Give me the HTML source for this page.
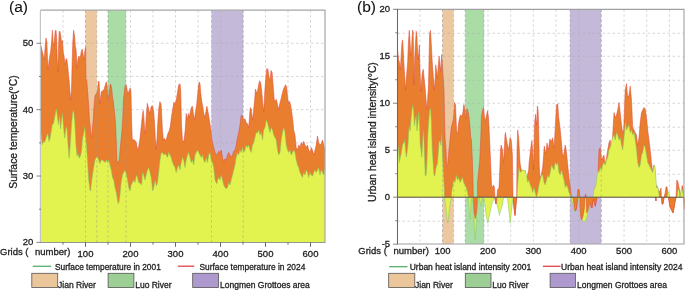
<!DOCTYPE html>
<html><head><meta charset="utf-8"><style>
html,body{margin:0;padding:0;background:#fff;overflow:hidden;}
svg{display:block;}
text{font-family:"Liberation Sans", sans-serif; stroke:#1a1a1a; stroke-width:0.3px; paint-order:stroke;}
svg{will-change:transform;}
</style></head><body>
<svg width="685" height="290" viewBox="0 0 685 290" font-family="Liberation Sans, sans-serif">
<rect x="0" y="0" width="685" height="290" fill="#fff"/>
<line x1="40.4" y1="10.2" x2="40.4" y2="242.1" stroke="#c4c4c4" stroke-width="1.2"/>
<rect x="85.5" y="10.2" width="11.30" height="231.9" fill="#ECC79F"/>
<rect x="108" y="10.2" width="18.00" height="231.9" fill="#AADDA5"/>
<rect x="211.5" y="10.2" width="31.70" height="231.9" fill="#C5B9DA"/>
<line x1="63.00" y1="10.2" x2="63.00" y2="242.1" stroke="#aaa" stroke-opacity="0.6" stroke-width="0.8" stroke-dasharray="2.5,2.5"/>
<line x1="85.50" y1="10.2" x2="85.50" y2="242.1" stroke="#aaa" stroke-opacity="0.6" stroke-width="0.8" stroke-dasharray="2.5,2.5"/>
<line x1="108.00" y1="10.2" x2="108.00" y2="242.1" stroke="#aaa" stroke-opacity="0.6" stroke-width="0.8" stroke-dasharray="2.5,2.5"/>
<line x1="130.50" y1="10.2" x2="130.50" y2="242.1" stroke="#aaa" stroke-opacity="0.6" stroke-width="0.8" stroke-dasharray="2.5,2.5"/>
<line x1="153.00" y1="10.2" x2="153.00" y2="242.1" stroke="#aaa" stroke-opacity="0.6" stroke-width="0.8" stroke-dasharray="2.5,2.5"/>
<line x1="175.50" y1="10.2" x2="175.50" y2="242.1" stroke="#aaa" stroke-opacity="0.6" stroke-width="0.8" stroke-dasharray="2.5,2.5"/>
<line x1="198.00" y1="10.2" x2="198.00" y2="242.1" stroke="#aaa" stroke-opacity="0.6" stroke-width="0.8" stroke-dasharray="2.5,2.5"/>
<line x1="220.50" y1="10.2" x2="220.50" y2="242.1" stroke="#aaa" stroke-opacity="0.6" stroke-width="0.8" stroke-dasharray="2.5,2.5"/>
<line x1="243.00" y1="10.2" x2="243.00" y2="242.1" stroke="#aaa" stroke-opacity="0.6" stroke-width="0.8" stroke-dasharray="2.5,2.5"/>
<line x1="265.50" y1="10.2" x2="265.50" y2="242.1" stroke="#aaa" stroke-opacity="0.6" stroke-width="0.8" stroke-dasharray="2.5,2.5"/>
<line x1="288.00" y1="10.2" x2="288.00" y2="242.1" stroke="#aaa" stroke-opacity="0.6" stroke-width="0.8" stroke-dasharray="2.5,2.5"/>
<line x1="310.50" y1="10.2" x2="310.50" y2="242.1" stroke="#aaa" stroke-opacity="0.6" stroke-width="0.8" stroke-dasharray="2.5,2.5"/>
<line x1="41" y1="209.22" x2="325" y2="209.22" stroke="#aaa" stroke-opacity="0.6" stroke-width="0.8" stroke-dasharray="2.5,2.5"/>
<line x1="41" y1="176.03" x2="325" y2="176.03" stroke="#aaa" stroke-opacity="0.6" stroke-width="0.8" stroke-dasharray="2.5,2.5"/>
<line x1="41" y1="142.85" x2="325" y2="142.85" stroke="#aaa" stroke-opacity="0.6" stroke-width="0.8" stroke-dasharray="2.5,2.5"/>
<line x1="41" y1="109.66" x2="325" y2="109.66" stroke="#aaa" stroke-opacity="0.6" stroke-width="0.8" stroke-dasharray="2.5,2.5"/>
<line x1="41" y1="76.48" x2="325" y2="76.48" stroke="#aaa" stroke-opacity="0.6" stroke-width="0.8" stroke-dasharray="2.5,2.5"/>
<line x1="41" y1="43.29" x2="325" y2="43.29" stroke="#aaa" stroke-opacity="0.6" stroke-width="0.8" stroke-dasharray="2.5,2.5"/>
<polygon points="41.00,242.10 41.00,45.70 41.70,49.10 42.60,52.60 43.40,56.00 44.30,59.50 45.20,45.70 46.00,37.90 46.90,42.20 47.40,56.00 48.10,69.80 49.00,61.20 49.80,56.00 50.70,50.90 51.70,40.50 52.40,30.20 53.10,42.20 53.80,45.70 54.50,38.80 55.20,31.00 56.00,30.20 56.70,38.80 57.20,59.50 57.80,71.60 58.40,50.90 59.10,31.90 59.80,31.00 60.70,35.30 61.60,42.20 62.40,40.50 63.30,52.60 64.10,56.00 65.00,64.70 65.90,59.50 66.70,58.60 67.60,64.70 68.40,73.30 69.30,82.00 70.50,100.00 71.50,90.00 72.20,60.00 72.80,42.20 73.60,30.20 74.50,35.30 75.30,45.70 76.20,50.90 77.10,68.10 77.90,59.50 78.80,56.00 79.70,57.80 80.50,56.00 81.40,50.90 82.20,49.10 83.10,54.30 84.00,59.50 84.80,50.90 85.70,47.40 86.00,79.00 86.70,80.00 87.70,92.40 88.30,100.70 88.80,108.00 89.30,118.00 89.80,124.00 90.20,125.00 90.60,133.00 91.20,137.00 91.70,136.00 92.40,128.70 93.40,118.30 93.90,108.00 94.50,100.70 95.00,95.50 96.50,93.40 97.20,92.00 97.70,88.00 98.30,82.00 99.00,81.00 99.60,92.00 100.10,103.80 100.60,98.00 101.20,92.40 101.70,91.40 102.20,92.40 102.80,90.30 103.30,89.80 103.80,90.30 104.30,89.30 104.80,86.20 105.30,85.20 105.80,83.10 106.30,82.00 106.80,83.10 107.40,88.30 108.00,97.00 108.50,99.00 109.00,95.00 109.50,90.00 110.00,86.00 110.50,84.00 111.00,85.00 111.50,88.00 112.00,91.00 112.50,98.00 113.10,100.00 114.30,110.30 115.30,120.70 115.80,130.00 116.40,145.50 116.90,160.00 118.00,163.50 119.30,160.00 120.00,150.70 121.00,140.30 122.00,130.00 122.60,120.70 123.10,110.30 123.40,100.00 124.00,95.00 125.00,86.00 126.00,84.50 126.50,86.00 127.00,89.00 127.50,92.00 128.00,94.00 128.50,92.00 129.00,91.00 129.50,90.00 130.00,88.00 130.50,89.00 131.00,93.00 131.60,120.00 132.20,138.30 133.40,140.50 134.00,139.50 135.20,140.70 136.40,143.00 137.70,150.40 138.90,145.60 140.00,138.30 141.30,126.00 142.50,114.00 143.20,110.50 144.20,121.40 144.90,133.50 145.60,128.60 146.40,114.00 147.30,103.30 148.50,108.00 149.70,114.00 151.00,107.00 152.20,105.70 152.90,107.00 153.80,113.00 154.60,123.80 155.30,138.30 156.30,149.20 157.00,138.30 157.70,123.80 158.70,109.30 159.90,101.60 161.10,104.50 161.80,116.60 162.50,131.00 163.50,140.70 164.20,138.30 165.40,140.70 166.60,138.30 167.90,133.50 169.10,131.00 170.30,126.20 171.50,116.60 172.70,109.30 173.90,102.00 175.10,104.50 176.30,99.70 177.50,92.40 178.70,85.00 180.00,83.70 180.70,90.00 181.50,125.00 182.50,141.00 184.00,141.00 185.20,130.00 186.20,113.50 187.20,119.70 188.30,113.50 189.30,117.60 190.40,111.40 191.40,107.30 192.40,106.20 193.50,114.50 194.50,119.70 195.50,111.40 196.60,105.20 197.60,94.80 198.60,84.50 199.30,82.00 200.10,84.50 200.70,92.80 201.70,101.00 202.70,106.20 203.80,113.50 204.80,117.60 205.90,111.40 206.90,106.20 207.90,111.40 209.00,117.60 210.00,123.80 211.00,130.00 212.00,140.00 212.50,142.50 213.70,147.50 215.00,152.50 216.20,155.00 217.50,153.70 218.70,151.20 220.00,152.50 221.20,150.00 222.50,157.50 223.70,162.50 225.00,158.70 226.20,160.00 227.50,155.00 228.70,152.50 230.00,155.00 231.20,157.50 232.50,155.00 233.70,151.20 235.00,150.00 236.20,145.00 237.50,137.50 238.70,132.50 240.00,125.00 241.20,115.00 242.50,116.20 243.70,120.00 245.00,118.70 246.20,122.50 247.50,123.70 248.70,127.50 250.00,110.00 250.40,107.60 251.40,109.70 252.40,120.00 253.50,111.80 254.50,101.40 255.50,89.00 256.60,93.10 257.60,91.00 258.60,84.80 259.70,80.70 260.70,82.80 261.70,91.00 262.80,103.50 263.80,111.80 264.80,91.00 265.90,76.60 266.90,68.30 267.90,69.30 269.00,76.60 270.00,80.70 271.00,70.40 272.10,72.40 273.10,84.80 274.20,99.30 275.20,101.40 276.20,99.30 277.30,103.50 278.30,109.70 279.30,105.50 280.40,101.40 281.40,97.30 282.40,93.10 283.50,89.00 284.50,86.90 285.50,84.80 286.60,86.90 287.60,97.30 288.60,103.50 289.70,101.40 290.70,105.50 291.70,111.80 292.80,120.00 293.70,130.00 295.00,135.00 296.20,147.50 297.50,150.00 298.70,145.00 300.00,147.50 301.20,142.50 302.50,145.00 303.70,141.20 305.00,145.00 306.20,147.50 307.50,145.00 308.70,150.00 310.00,152.50 311.20,147.50 312.50,150.00 313.70,155.00 315.00,150.00 316.20,145.00 317.50,136.00 318.70,142.50 320.00,145.00 321.20,143.70 322.50,140.00 323.70,145.00 325.00,150.00 325.00,242.10" fill="#E87E2E" stroke="none"/>
<polyline points="41.00,45.70 41.70,49.10 42.60,52.60 43.40,56.00 44.30,59.50 45.20,45.70 46.00,37.90 46.90,42.20 47.40,56.00 48.10,69.80 49.00,61.20 49.80,56.00 50.70,50.90 51.70,40.50 52.40,30.20 53.10,42.20 53.80,45.70 54.50,38.80 55.20,31.00 56.00,30.20 56.70,38.80 57.20,59.50 57.80,71.60 58.40,50.90 59.10,31.90 59.80,31.00 60.70,35.30 61.60,42.20 62.40,40.50 63.30,52.60 64.10,56.00 65.00,64.70 65.90,59.50 66.70,58.60 67.60,64.70 68.40,73.30 69.30,82.00 70.50,100.00 71.50,90.00 72.20,60.00 72.80,42.20 73.60,30.20 74.50,35.30 75.30,45.70 76.20,50.90 77.10,68.10 77.90,59.50 78.80,56.00 79.70,57.80 80.50,56.00 81.40,50.90 82.20,49.10 83.10,54.30 84.00,59.50 84.80,50.90 85.70,47.40 86.00,79.00 86.70,80.00 87.70,92.40 88.30,100.70 88.80,108.00 89.30,118.00 89.80,124.00 90.20,125.00 90.60,133.00 91.20,137.00 91.70,136.00 92.40,128.70 93.40,118.30 93.90,108.00 94.50,100.70 95.00,95.50 96.50,93.40 97.20,92.00 97.70,88.00 98.30,82.00 99.00,81.00 99.60,92.00 100.10,103.80 100.60,98.00 101.20,92.40 101.70,91.40 102.20,92.40 102.80,90.30 103.30,89.80 103.80,90.30 104.30,89.30 104.80,86.20 105.30,85.20 105.80,83.10 106.30,82.00 106.80,83.10 107.40,88.30 108.00,97.00 108.50,99.00 109.00,95.00 109.50,90.00 110.00,86.00 110.50,84.00 111.00,85.00 111.50,88.00 112.00,91.00 112.50,98.00 113.10,100.00 114.30,110.30 115.30,120.70 115.80,130.00 116.40,145.50 116.90,160.00 118.00,163.50 119.30,160.00 120.00,150.70 121.00,140.30 122.00,130.00 122.60,120.70 123.10,110.30 123.40,100.00 124.00,95.00 125.00,86.00 126.00,84.50 126.50,86.00 127.00,89.00 127.50,92.00 128.00,94.00 128.50,92.00 129.00,91.00 129.50,90.00 130.00,88.00 130.50,89.00 131.00,93.00 131.60,120.00 132.20,138.30 133.40,140.50 134.00,139.50 135.20,140.70 136.40,143.00 137.70,150.40 138.90,145.60 140.00,138.30 141.30,126.00 142.50,114.00 143.20,110.50 144.20,121.40 144.90,133.50 145.60,128.60 146.40,114.00 147.30,103.30 148.50,108.00 149.70,114.00 151.00,107.00 152.20,105.70 152.90,107.00 153.80,113.00 154.60,123.80 155.30,138.30 156.30,149.20 157.00,138.30 157.70,123.80 158.70,109.30 159.90,101.60 161.10,104.50 161.80,116.60 162.50,131.00 163.50,140.70 164.20,138.30 165.40,140.70 166.60,138.30 167.90,133.50 169.10,131.00 170.30,126.20 171.50,116.60 172.70,109.30 173.90,102.00 175.10,104.50 176.30,99.70 177.50,92.40 178.70,85.00 180.00,83.70 180.70,90.00 181.50,125.00 182.50,141.00 184.00,141.00 185.20,130.00 186.20,113.50 187.20,119.70 188.30,113.50 189.30,117.60 190.40,111.40 191.40,107.30 192.40,106.20 193.50,114.50 194.50,119.70 195.50,111.40 196.60,105.20 197.60,94.80 198.60,84.50 199.30,82.00 200.10,84.50 200.70,92.80 201.70,101.00 202.70,106.20 203.80,113.50 204.80,117.60 205.90,111.40 206.90,106.20 207.90,111.40 209.00,117.60 210.00,123.80 211.00,130.00 212.00,140.00 212.50,142.50 213.70,147.50 215.00,152.50 216.20,155.00 217.50,153.70 218.70,151.20 220.00,152.50 221.20,150.00 222.50,157.50 223.70,162.50 225.00,158.70 226.20,160.00 227.50,155.00 228.70,152.50 230.00,155.00 231.20,157.50 232.50,155.00 233.70,151.20 235.00,150.00 236.20,145.00 237.50,137.50 238.70,132.50 240.00,125.00 241.20,115.00 242.50,116.20 243.70,120.00 245.00,118.70 246.20,122.50 247.50,123.70 248.70,127.50 250.00,110.00 250.40,107.60 251.40,109.70 252.40,120.00 253.50,111.80 254.50,101.40 255.50,89.00 256.60,93.10 257.60,91.00 258.60,84.80 259.70,80.70 260.70,82.80 261.70,91.00 262.80,103.50 263.80,111.80 264.80,91.00 265.90,76.60 266.90,68.30 267.90,69.30 269.00,76.60 270.00,80.70 271.00,70.40 272.10,72.40 273.10,84.80 274.20,99.30 275.20,101.40 276.20,99.30 277.30,103.50 278.30,109.70 279.30,105.50 280.40,101.40 281.40,97.30 282.40,93.10 283.50,89.00 284.50,86.90 285.50,84.80 286.60,86.90 287.60,97.30 288.60,103.50 289.70,101.40 290.70,105.50 291.70,111.80 292.80,120.00 293.70,130.00 295.00,135.00 296.20,147.50 297.50,150.00 298.70,145.00 300.00,147.50 301.20,142.50 302.50,145.00 303.70,141.20 305.00,145.00 306.20,147.50 307.50,145.00 308.70,150.00 310.00,152.50 311.20,147.50 312.50,150.00 313.70,155.00 315.00,150.00 316.20,145.00 317.50,136.00 318.70,142.50 320.00,145.00 321.20,143.70 322.50,140.00 323.70,145.00 325.00,150.00" fill="none" stroke="#e0463a" stroke-width="0.5" stroke-linejoin="round"/>
<polygon points="41.00,242.10 41.00,133.60 42.20,144.80 43.40,141.50 44.50,142.60 45.60,139.20 46.70,135.90 47.80,133.60 49.00,141.50 50.10,138.00 51.20,131.40 52.30,124.70 53.50,123.50 54.60,118.00 55.70,111.20 56.40,109.00 57.30,115.70 58.40,124.70 59.50,115.70 60.60,129.10 61.70,118.00 62.40,113.50 63.50,126.90 64.70,138.00 65.80,129.10 66.90,126.90 68.00,144.80 69.10,158.30 70.30,144.80 71.40,126.90 72.50,113.50 73.60,110.10 74.80,122.40 75.90,144.80 77.00,156.00 78.10,153.80 79.20,158.30 80.40,156.00 81.50,151.60 82.60,138.00 83.70,133.60 84.80,126.90 85.50,135.00 86.40,144.80 87.50,160.50 88.70,180.00 90.00,190.00 90.70,191.00 91.20,185.00 92.50,175.00 93.70,167.50 95.00,160.00 96.20,157.50 97.50,157.00 98.70,160.00 100.00,163.70 101.20,160.00 102.50,160.00 103.70,161.20 105.00,162.50 106.20,160.00 107.50,162.50 108.50,160.00 110.00,165.00 111.20,170.00 112.50,177.50 113.70,180.00 115.00,187.50 116.20,192.50 117.50,200.00 118.00,203.70 119.00,202.00 120.00,195.00 121.20,182.50 122.50,175.00 123.70,172.50 125.00,170.00 126.20,173.70 127.50,180.00 128.70,187.50 130.00,191.00 131.20,185.00 132.50,182.50 133.70,180.00 135.00,182.50 136.20,175.00 137.50,177.50 138.70,182.50 140.00,183.00 141.70,185.00 142.50,172.50 143.70,175.00 145.00,180.00 146.20,175.00 147.50,170.00 148.70,167.50 150.00,172.50 151.20,177.50 152.70,191.00 153.70,188.00 155.00,180.00 156.50,186.00 157.50,182.50 158.70,172.50 160.00,160.00 161.20,153.00 162.50,152.50 163.70,155.00 165.00,153.70 166.20,155.00 167.50,157.50 168.70,152.50 170.00,155.00 171.20,157.50 172.50,162.50 173.70,165.00 175.00,167.50 176.20,172.50 177.50,167.50 178.70,165.00 180.00,170.00 181.20,162.50 182.50,157.50 183.70,160.00 185.00,167.50 186.20,160.00 187.50,155.00 188.70,152.50 190.00,157.50 191.20,162.50 192.50,160.00 193.70,165.00 195.00,155.00 196.20,152.50 197.50,150.00 198.70,152.50 200.00,155.00 201.20,157.50 202.50,155.00 203.70,160.00 205.00,162.50 206.20,157.50 207.50,162.50 208.70,155.00 210.00,152.50 211.20,160.00 212.50,162.50 213.70,167.50 215.00,180.00 216.20,182.50 217.00,183.70 217.50,180.00 218.70,177.50 220.00,180.00 221.20,175.00 222.50,180.00 223.70,185.00 225.00,187.50 226.20,188.70 227.50,187.50 228.70,182.50 230.00,185.00 231.20,180.00 232.50,175.00 233.70,170.00 235.00,165.00 236.20,157.50 237.50,152.50 238.70,155.00 240.00,150.00 241.20,152.50 242.50,147.50 243.70,152.50 245.00,150.00 246.20,145.00 247.50,147.50 248.70,145.00 250.00,150.00 251.20,152.50 252.50,145.00 253.70,142.50 255.00,137.50 256.20,132.50 257.50,133.00 258.70,130.00 260.00,135.00 261.20,132.50 262.50,140.00 263.70,130.00 265.00,127.50 266.20,120.00 267.50,122.50 268.70,127.50 270.00,132.50 271.20,127.50 272.50,130.00 273.70,135.00 275.00,137.50 276.20,140.00 277.50,150.00 278.70,155.00 280.00,152.50 281.20,140.00 282.50,132.50 283.70,127.50 285.00,132.50 286.20,145.00 287.50,150.00 288.70,152.50 290.00,150.00 291.20,155.00 292.50,152.50 293.70,150.00 295.00,152.50 296.20,160.00 297.50,165.00 298.70,167.50 300.00,172.50 301.20,175.00 302.50,177.50 303.70,172.50 305.00,175.00 306.20,170.00 307.50,172.50 308.70,177.50 310.00,172.50 311.20,175.00 312.50,176.20 313.70,172.50 315.00,170.00 316.20,172.50 317.50,170.00 318.70,167.50 320.00,175.00 321.20,170.00 322.50,172.50 323.70,175.00 325.00,167.50 325.00,242.10" fill="#E2F24E" stroke="none"/>
<polyline points="41.00,133.60 42.20,144.80 43.40,141.50 44.50,142.60 45.60,139.20 46.70,135.90 47.80,133.60 49.00,141.50 50.10,138.00 51.20,131.40 52.30,124.70 53.50,123.50 54.60,118.00 55.70,111.20 56.40,109.00 57.30,115.70 58.40,124.70 59.50,115.70 60.60,129.10 61.70,118.00 62.40,113.50 63.50,126.90 64.70,138.00 65.80,129.10 66.90,126.90 68.00,144.80 69.10,158.30 70.30,144.80 71.40,126.90 72.50,113.50 73.60,110.10 74.80,122.40 75.90,144.80 77.00,156.00 78.10,153.80 79.20,158.30 80.40,156.00 81.50,151.60 82.60,138.00 83.70,133.60 84.80,126.90 85.50,135.00 86.40,144.80 87.50,160.50 88.70,180.00 90.00,190.00 90.70,191.00 91.20,185.00 92.50,175.00 93.70,167.50 95.00,160.00 96.20,157.50 97.50,157.00 98.70,160.00 100.00,163.70 101.20,160.00 102.50,160.00 103.70,161.20 105.00,162.50 106.20,160.00 107.50,162.50 108.50,160.00 110.00,165.00 111.20,170.00 112.50,177.50 113.70,180.00 115.00,187.50 116.20,192.50 117.50,200.00 118.00,203.70 119.00,202.00 120.00,195.00 121.20,182.50 122.50,175.00 123.70,172.50 125.00,170.00 126.20,173.70 127.50,180.00 128.70,187.50 130.00,191.00 131.20,185.00 132.50,182.50 133.70,180.00 135.00,182.50 136.20,175.00 137.50,177.50 138.70,182.50 140.00,183.00 141.70,185.00 142.50,172.50 143.70,175.00 145.00,180.00 146.20,175.00 147.50,170.00 148.70,167.50 150.00,172.50 151.20,177.50 152.70,191.00 153.70,188.00 155.00,180.00 156.50,186.00 157.50,182.50 158.70,172.50 160.00,160.00 161.20,153.00 162.50,152.50 163.70,155.00 165.00,153.70 166.20,155.00 167.50,157.50 168.70,152.50 170.00,155.00 171.20,157.50 172.50,162.50 173.70,165.00 175.00,167.50 176.20,172.50 177.50,167.50 178.70,165.00 180.00,170.00 181.20,162.50 182.50,157.50 183.70,160.00 185.00,167.50 186.20,160.00 187.50,155.00 188.70,152.50 190.00,157.50 191.20,162.50 192.50,160.00 193.70,165.00 195.00,155.00 196.20,152.50 197.50,150.00 198.70,152.50 200.00,155.00 201.20,157.50 202.50,155.00 203.70,160.00 205.00,162.50 206.20,157.50 207.50,162.50 208.70,155.00 210.00,152.50 211.20,160.00 212.50,162.50 213.70,167.50 215.00,180.00 216.20,182.50 217.00,183.70 217.50,180.00 218.70,177.50 220.00,180.00 221.20,175.00 222.50,180.00 223.70,185.00 225.00,187.50 226.20,188.70 227.50,187.50 228.70,182.50 230.00,185.00 231.20,180.00 232.50,175.00 233.70,170.00 235.00,165.00 236.20,157.50 237.50,152.50 238.70,155.00 240.00,150.00 241.20,152.50 242.50,147.50 243.70,152.50 245.00,150.00 246.20,145.00 247.50,147.50 248.70,145.00 250.00,150.00 251.20,152.50 252.50,145.00 253.70,142.50 255.00,137.50 256.20,132.50 257.50,133.00 258.70,130.00 260.00,135.00 261.20,132.50 262.50,140.00 263.70,130.00 265.00,127.50 266.20,120.00 267.50,122.50 268.70,127.50 270.00,132.50 271.20,127.50 272.50,130.00 273.70,135.00 275.00,137.50 276.20,140.00 277.50,150.00 278.70,155.00 280.00,152.50 281.20,140.00 282.50,132.50 283.70,127.50 285.00,132.50 286.20,145.00 287.50,150.00 288.70,152.50 290.00,150.00 291.20,155.00 292.50,152.50 293.70,150.00 295.00,152.50 296.20,160.00 297.50,165.00 298.70,167.50 300.00,172.50 301.20,175.00 302.50,177.50 303.70,172.50 305.00,175.00 306.20,170.00 307.50,172.50 308.70,177.50 310.00,172.50 311.20,175.00 312.50,176.20 313.70,172.50 315.00,170.00 316.20,172.50 317.50,170.00 318.70,167.50 320.00,175.00 321.20,170.00 322.50,172.50 323.70,175.00 325.00,167.50" fill="none" stroke="#7cc96a" stroke-width="0.5" stroke-linejoin="round"/>
<line x1="85.5" y1="10.2" x2="85.5" y2="242.1" stroke="#999" stroke-opacity="0.6" stroke-width="0.8" stroke-dasharray="2.5,2.5"/>
<line x1="96.8" y1="10.2" x2="96.8" y2="242.1" stroke="#999" stroke-opacity="0.6" stroke-width="0.8" stroke-dasharray="2.5,2.5"/>
<line x1="108" y1="10.2" x2="108" y2="242.1" stroke="#999" stroke-opacity="0.6" stroke-width="0.8" stroke-dasharray="2.5,2.5"/>
<line x1="126" y1="10.2" x2="126" y2="242.1" stroke="#999" stroke-opacity="0.6" stroke-width="0.8" stroke-dasharray="2.5,2.5"/>
<line x1="211.5" y1="10.2" x2="211.5" y2="242.1" stroke="#999" stroke-opacity="0.6" stroke-width="0.8" stroke-dasharray="2.5,2.5"/>
<line x1="243.2" y1="10.2" x2="243.2" y2="242.1" stroke="#999" stroke-opacity="0.6" stroke-width="0.8" stroke-dasharray="2.5,2.5"/>

<path d="M40.5,10.2 H325 V242.1" fill="none" stroke="#a6a6a6" stroke-width="1.2"/>
<line x1="40.5" y1="242.5" x2="325.5" y2="242.5" stroke="#8a8a8a" stroke-width="0.9"/>
<line x1="36.5" y1="242.40" x2="41" y2="242.40" stroke="#666" stroke-width="0.8"/>
<text x="33.4" y="245.30" font-size="9.5" text-anchor="end" fill="#222">20</text>
<line x1="36.5" y1="176.03" x2="41" y2="176.03" stroke="#666" stroke-width="0.8"/>
<text x="33.4" y="178.93" font-size="9.5" text-anchor="end" fill="#222">30</text>
<line x1="36.5" y1="109.66" x2="41" y2="109.66" stroke="#666" stroke-width="0.8"/>
<text x="33.4" y="112.56" font-size="9.5" text-anchor="end" fill="#222">40</text>
<line x1="36.5" y1="43.29" x2="41" y2="43.29" stroke="#666" stroke-width="0.8"/>
<text x="33.4" y="46.19" font-size="9.5" text-anchor="end" fill="#222">50</text>
<line x1="39" y1="209.22" x2="41" y2="209.22" stroke="#666" stroke-width="0.8"/>
<line x1="39" y1="142.85" x2="41" y2="142.85" stroke="#666" stroke-width="0.8"/>
<line x1="39" y1="76.48" x2="41" y2="76.48" stroke="#666" stroke-width="0.8"/>
<line x1="85.50" y1="242.5" x2="85.50" y2="246.8" stroke="#555" stroke-width="0.9"/>
<text x="85.50" y="256.5" font-size="9.5" text-anchor="middle" fill="#222">100</text>
<line x1="130.50" y1="242.5" x2="130.50" y2="246.8" stroke="#555" stroke-width="0.9"/>
<text x="130.50" y="256.5" font-size="9.5" text-anchor="middle" fill="#222">200</text>
<line x1="175.50" y1="242.5" x2="175.50" y2="246.8" stroke="#555" stroke-width="0.9"/>
<text x="175.50" y="256.5" font-size="9.5" text-anchor="middle" fill="#222">300</text>
<line x1="220.50" y1="242.5" x2="220.50" y2="246.8" stroke="#555" stroke-width="0.9"/>
<text x="220.50" y="256.5" font-size="9.5" text-anchor="middle" fill="#222">400</text>
<line x1="265.50" y1="242.5" x2="265.50" y2="246.8" stroke="#555" stroke-width="0.9"/>
<text x="265.50" y="256.5" font-size="9.5" text-anchor="middle" fill="#222">500</text>
<line x1="310.50" y1="242.5" x2="310.50" y2="246.8" stroke="#555" stroke-width="0.9"/>
<text x="310.50" y="256.5" font-size="9.5" text-anchor="middle" fill="#222">600</text>
<line x1="63.00" y1="242.5" x2="63.00" y2="244.6" stroke="#555" stroke-width="0.9"/>
<line x1="108.00" y1="242.5" x2="108.00" y2="244.6" stroke="#555" stroke-width="0.9"/>
<line x1="153.00" y1="242.5" x2="153.00" y2="244.6" stroke="#555" stroke-width="0.9"/>
<line x1="198.00" y1="242.5" x2="198.00" y2="244.6" stroke="#555" stroke-width="0.9"/>
<line x1="243.00" y1="242.5" x2="243.00" y2="244.6" stroke="#555" stroke-width="0.9"/>
<line x1="288.00" y1="242.5" x2="288.00" y2="244.6" stroke="#555" stroke-width="0.9"/>
<text x="0" y="255.3" font-size="9.5" fill="#222">Grids (</text>
<text x="35" y="255.3" font-size="9.5" fill="#222">number)</text>
<text transform="translate(17,188.7) rotate(-90)" font-size="10.4" fill="#222">Surface temperature(°C)</text>
<text x="9" y="11.6" font-size="15.5" fill="#111" style="stroke-width:0.1px">(a)</text>
<rect x="442.5" y="9.4" width="11.10" height="234.6" fill="#ECC79F"/>
<rect x="465.3" y="9.4" width="18.70" height="234.6" fill="#AADDA5"/>
<rect x="570" y="9.4" width="31.20" height="234.6" fill="#C5B9DA"/>
<line x1="419.98" y1="9.4" x2="419.98" y2="244" stroke="#aaa" stroke-opacity="0.6" stroke-width="0.8" stroke-dasharray="2.5,2.5"/>
<line x1="442.65" y1="9.4" x2="442.65" y2="244" stroke="#aaa" stroke-opacity="0.6" stroke-width="0.8" stroke-dasharray="2.5,2.5"/>
<line x1="465.33" y1="9.4" x2="465.33" y2="244" stroke="#aaa" stroke-opacity="0.6" stroke-width="0.8" stroke-dasharray="2.5,2.5"/>
<line x1="488.00" y1="9.4" x2="488.00" y2="244" stroke="#aaa" stroke-opacity="0.6" stroke-width="0.8" stroke-dasharray="2.5,2.5"/>
<line x1="510.68" y1="9.4" x2="510.68" y2="244" stroke="#aaa" stroke-opacity="0.6" stroke-width="0.8" stroke-dasharray="2.5,2.5"/>
<line x1="533.35" y1="9.4" x2="533.35" y2="244" stroke="#aaa" stroke-opacity="0.6" stroke-width="0.8" stroke-dasharray="2.5,2.5"/>
<line x1="556.02" y1="9.4" x2="556.02" y2="244" stroke="#aaa" stroke-opacity="0.6" stroke-width="0.8" stroke-dasharray="2.5,2.5"/>
<line x1="578.70" y1="9.4" x2="578.70" y2="244" stroke="#aaa" stroke-opacity="0.6" stroke-width="0.8" stroke-dasharray="2.5,2.5"/>
<line x1="601.38" y1="9.4" x2="601.38" y2="244" stroke="#aaa" stroke-opacity="0.6" stroke-width="0.8" stroke-dasharray="2.5,2.5"/>
<line x1="624.05" y1="9.4" x2="624.05" y2="244" stroke="#aaa" stroke-opacity="0.6" stroke-width="0.8" stroke-dasharray="2.5,2.5"/>
<line x1="646.73" y1="9.4" x2="646.73" y2="244" stroke="#aaa" stroke-opacity="0.6" stroke-width="0.8" stroke-dasharray="2.5,2.5"/>
<line x1="669.40" y1="9.4" x2="669.40" y2="244" stroke="#aaa" stroke-opacity="0.6" stroke-width="0.8" stroke-dasharray="2.5,2.5"/>
<line x1="397.5" y1="221.19" x2="684" y2="221.19" stroke="#aaa" stroke-opacity="0.6" stroke-width="0.8" stroke-dasharray="2.5,2.5"/>
<line x1="397.5" y1="174.21" x2="684" y2="174.21" stroke="#aaa" stroke-opacity="0.6" stroke-width="0.8" stroke-dasharray="2.5,2.5"/>
<line x1="397.5" y1="150.22" x2="684" y2="150.22" stroke="#aaa" stroke-opacity="0.6" stroke-width="0.8" stroke-dasharray="2.5,2.5"/>
<line x1="397.5" y1="127.24" x2="684" y2="127.24" stroke="#aaa" stroke-opacity="0.6" stroke-width="0.8" stroke-dasharray="2.5,2.5"/>
<line x1="397.5" y1="103.25" x2="684" y2="103.25" stroke="#aaa" stroke-opacity="0.6" stroke-width="0.8" stroke-dasharray="2.5,2.5"/>
<line x1="397.5" y1="80.26" x2="684" y2="80.26" stroke="#aaa" stroke-opacity="0.6" stroke-width="0.8" stroke-dasharray="2.5,2.5"/>
<line x1="397.5" y1="56.28" x2="684" y2="56.28" stroke="#aaa" stroke-opacity="0.6" stroke-width="0.8" stroke-dasharray="2.5,2.5"/>
<line x1="397.5" y1="33.29" x2="684" y2="33.29" stroke="#aaa" stroke-opacity="0.6" stroke-width="0.8" stroke-dasharray="2.5,2.5"/>
<polygon points="397.50,197.20 397.50,50.00 398.60,59.70 399.40,62.20 400.30,70.00 401.20,54.50 402.00,42.40 402.60,39.80 403.20,49.30 403.90,63.10 404.60,75.00 405.50,90.40 406.30,78.00 406.90,72.00 407.70,61.40 408.40,42.40 409.30,30.30 409.80,37.20 410.50,49.30 411.20,56.20 411.90,40.70 412.60,30.00 413.20,32.00 413.70,60.00 414.10,85.00 414.60,61.40 415.30,45.90 416.20,31.20 416.90,35.50 417.60,51.00 418.40,59.70 419.30,45.00 420.00,70.00 420.80,92.00 421.60,80.00 422.40,72.00 423.30,69.30 424.30,80.00 425.30,90.00 426.10,100.00 426.80,109.70 427.60,100.00 428.50,85.00 429.60,33.80 430.50,30.30 431.30,44.10 432.20,61.40 433.20,75.00 434.30,90.40 435.20,78.00 435.70,64.80 436.50,70.00 437.40,78.30 438.20,66.00 439.10,56.20 440.00,64.00 440.80,71.40 441.70,54.50 442.30,62.00 443.00,75.00 444.00,90.00 444.50,115.00 445.00,137.00 446.00,150.00 446.70,167.00 447.50,166.00 448.50,155.00 449.50,145.00 450.00,140.00 451.00,130.00 451.40,127.00 452.40,123.00 453.40,119.00 454.00,110.70 454.50,102.40 455.50,104.50 456.60,131.40 457.60,133.50 458.60,123.10 459.70,116.90 460.70,114.80 461.70,116.90 462.80,112.80 463.80,104.50 464.80,108.60 465.90,119.00 466.90,108.60 467.90,110.70 469.00,116.90 470.00,127.30 470.70,137.00 471.40,140.00 472.40,160.70 473.00,181.00 473.30,197.50 474.20,212.00 475.20,218.50 476.30,213.00 477.10,203.00 477.50,197.50 477.60,181.40 479.70,160.70 480.70,140.00 481.40,116.90 482.40,110.70 483.50,107.60 484.50,116.90 485.50,121.00 486.60,114.80 487.60,110.70 488.60,119.00 489.50,137.00 490.50,160.00 491.50,185.00 492.50,187.50 493.70,185.00 494.50,188.00 494.90,197.50 495.50,202.00 496.00,204.00 496.50,201.00 496.90,197.50 497.50,190.00 498.00,189.00 499.00,188.00 499.80,170.00 500.50,150.00 501.20,145.00 502.50,150.00 503.70,162.50 505.00,135.00 505.50,132.50 506.20,137.50 507.50,145.00 508.70,150.00 510.00,137.50 511.20,140.00 512.40,155.00 513.00,197.50 514.00,208.00 515.00,215.50 516.00,205.00 516.70,197.50 517.00,150.00 517.70,130.00 518.70,137.50 520.00,162.50 521.20,170.00 522.50,170.00 523.70,172.50 525.00,170.00 526.20,180.00 527.50,175.00 528.70,170.00 529.10,162.60 530.00,155.00 530.50,150.00 531.20,145.00 531.90,140.50 532.70,150.00 533.50,170.00 534.20,140.00 534.70,122.60 535.50,114.30 536.60,125.00 537.40,106.00 538.20,111.00 538.80,135.00 539.30,166.70 540.00,178.00 541.20,175.00 542.20,170.00 542.90,165.00 544.30,146.00 545.70,154.00 547.00,143.00 548.40,150.00 549.80,139.10 551.20,142.00 552.60,137.80 554.00,148.00 555.00,132.50 556.50,105.00 557.70,103.70 558.70,117.50 560.00,127.50 561.20,140.00 562.50,155.00 563.70,155.00 565.20,145.00 566.20,150.00 567.50,162.50 568.70,175.00 570.00,185.00 571.50,197.50 573.00,197.50 574.00,205.00 574.70,209.70 575.50,211.00 576.50,208.00 577.20,201.00 577.70,190.00 578.50,189.00 579.30,190.00 580.00,204.00 580.70,214.80 581.50,220.00 582.50,218.00 583.30,214.80 584.20,209.70 585.00,196.00 585.70,194.00 586.20,198.00 586.70,213.00 587.50,211.00 588.50,208.00 589.30,204.50 590.20,202.80 591.00,206.20 592.00,208.00 592.80,201.00 593.60,199.30 594.50,202.80 595.30,206.20 596.20,201.00 597.00,197.50 598.00,172.50 599.00,150.00 600.20,147.50 601.50,160.00 602.70,157.50 604.00,155.00 605.20,165.00 606.50,157.50 607.70,150.00 609.00,142.50 610.20,140.00 611.50,150.00 612.70,135.00 614.00,112.50 615.20,117.50 616.50,115.00 617.70,110.00 619.00,102.50 620.20,112.50 621.50,125.00 622.70,132.50 623.70,130.00 625.20,90.00 626.50,83.70 627.70,97.50 629.00,95.00 630.20,86.20 631.50,100.00 632.70,127.50 634.00,130.00 635.20,132.50 636.50,135.00 637.70,145.00 639.00,137.50 640.20,122.50 641.50,112.50 642.70,110.00 644.00,107.50 645.20,108.70 646.50,117.50 647.70,130.00 649.00,140.00 650.20,150.00 651.50,162.50 652.70,172.50 654.00,165.00 655.20,175.00 655.50,197.50 656.00,201.00 656.50,185.00 657.70,187.50 659.00,192.50 660.20,190.00 661.00,188.00 661.50,197.50 662.00,204.00 663.00,204.00 664.00,197.50 665.20,192.50 666.00,187.00 667.00,186.80 667.70,192.50 668.50,197.50 670.00,207.00 671.50,210.00 673.00,213.00 674.00,208.00 675.00,202.00 676.00,197.50 676.80,180.00 678.00,182.00 679.00,187.50 680.20,192.50 681.50,195.00 682.00,185.40 683.00,187.00 683.70,197.50 684.50,209.60 684.50,197.20" fill="#E87E2E" stroke="none"/>
<polyline points="397.50,50.00 398.60,59.70 399.40,62.20 400.30,70.00 401.20,54.50 402.00,42.40 402.60,39.80 403.20,49.30 403.90,63.10 404.60,75.00 405.50,90.40 406.30,78.00 406.90,72.00 407.70,61.40 408.40,42.40 409.30,30.30 409.80,37.20 410.50,49.30 411.20,56.20 411.90,40.70 412.60,30.00 413.20,32.00 413.70,60.00 414.10,85.00 414.60,61.40 415.30,45.90 416.20,31.20 416.90,35.50 417.60,51.00 418.40,59.70 419.30,45.00 420.00,70.00 420.80,92.00 421.60,80.00 422.40,72.00 423.30,69.30 424.30,80.00 425.30,90.00 426.10,100.00 426.80,109.70 427.60,100.00 428.50,85.00 429.60,33.80 430.50,30.30 431.30,44.10 432.20,61.40 433.20,75.00 434.30,90.40 435.20,78.00 435.70,64.80 436.50,70.00 437.40,78.30 438.20,66.00 439.10,56.20 440.00,64.00 440.80,71.40 441.70,54.50 442.30,62.00 443.00,75.00 444.00,90.00 444.50,115.00 445.00,137.00 446.00,150.00 446.70,167.00 447.50,166.00 448.50,155.00 449.50,145.00 450.00,140.00 451.00,130.00 451.40,127.00 452.40,123.00 453.40,119.00 454.00,110.70 454.50,102.40 455.50,104.50 456.60,131.40 457.60,133.50 458.60,123.10 459.70,116.90 460.70,114.80 461.70,116.90 462.80,112.80 463.80,104.50 464.80,108.60 465.90,119.00 466.90,108.60 467.90,110.70 469.00,116.90 470.00,127.30 470.70,137.00 471.40,140.00 472.40,160.70 473.00,181.00 473.30,197.50 474.20,212.00 475.20,218.50 476.30,213.00 477.10,203.00 477.50,197.50 477.60,181.40 479.70,160.70 480.70,140.00 481.40,116.90 482.40,110.70 483.50,107.60 484.50,116.90 485.50,121.00 486.60,114.80 487.60,110.70 488.60,119.00 489.50,137.00 490.50,160.00 491.50,185.00 492.50,187.50 493.70,185.00 494.50,188.00 494.90,197.50 495.50,202.00 496.00,204.00 496.50,201.00 496.90,197.50 497.50,190.00 498.00,189.00 499.00,188.00 499.80,170.00 500.50,150.00 501.20,145.00 502.50,150.00 503.70,162.50 505.00,135.00 505.50,132.50 506.20,137.50 507.50,145.00 508.70,150.00 510.00,137.50 511.20,140.00 512.40,155.00 513.00,197.50 514.00,208.00 515.00,215.50 516.00,205.00 516.70,197.50 517.00,150.00 517.70,130.00 518.70,137.50 520.00,162.50 521.20,170.00 522.50,170.00 523.70,172.50 525.00,170.00 526.20,180.00 527.50,175.00 528.70,170.00 529.10,162.60 530.00,155.00 530.50,150.00 531.20,145.00 531.90,140.50 532.70,150.00 533.50,170.00 534.20,140.00 534.70,122.60 535.50,114.30 536.60,125.00 537.40,106.00 538.20,111.00 538.80,135.00 539.30,166.70 540.00,178.00 541.20,175.00 542.20,170.00 542.90,165.00 544.30,146.00 545.70,154.00 547.00,143.00 548.40,150.00 549.80,139.10 551.20,142.00 552.60,137.80 554.00,148.00 555.00,132.50 556.50,105.00 557.70,103.70 558.70,117.50 560.00,127.50 561.20,140.00 562.50,155.00 563.70,155.00 565.20,145.00 566.20,150.00 567.50,162.50 568.70,175.00 570.00,185.00 571.50,197.50 573.00,197.50 574.00,205.00 574.70,209.70 575.50,211.00 576.50,208.00 577.20,201.00 577.70,190.00 578.50,189.00 579.30,190.00 580.00,204.00 580.70,214.80 581.50,220.00 582.50,218.00 583.30,214.80 584.20,209.70 585.00,196.00 585.70,194.00 586.20,198.00 586.70,213.00 587.50,211.00 588.50,208.00 589.30,204.50 590.20,202.80 591.00,206.20 592.00,208.00 592.80,201.00 593.60,199.30 594.50,202.80 595.30,206.20 596.20,201.00 597.00,197.50 598.00,172.50 599.00,150.00 600.20,147.50 601.50,160.00 602.70,157.50 604.00,155.00 605.20,165.00 606.50,157.50 607.70,150.00 609.00,142.50 610.20,140.00 611.50,150.00 612.70,135.00 614.00,112.50 615.20,117.50 616.50,115.00 617.70,110.00 619.00,102.50 620.20,112.50 621.50,125.00 622.70,132.50 623.70,130.00 625.20,90.00 626.50,83.70 627.70,97.50 629.00,95.00 630.20,86.20 631.50,100.00 632.70,127.50 634.00,130.00 635.20,132.50 636.50,135.00 637.70,145.00 639.00,137.50 640.20,122.50 641.50,112.50 642.70,110.00 644.00,107.50 645.20,108.70 646.50,117.50 647.70,130.00 649.00,140.00 650.20,150.00 651.50,162.50 652.70,172.50 654.00,165.00 655.20,175.00 655.50,197.50 656.00,201.00 656.50,185.00 657.70,187.50 659.00,192.50 660.20,190.00 661.00,188.00 661.50,197.50 662.00,204.00 663.00,204.00 664.00,197.50 665.20,192.50 666.00,187.00 667.00,186.80 667.70,192.50 668.50,197.50 670.00,207.00 671.50,210.00 673.00,213.00 674.00,208.00 675.00,202.00 676.00,197.50 676.80,180.00 678.00,182.00 679.00,187.50 680.20,192.50 681.50,195.00 682.00,185.40 683.00,187.00 683.70,197.50 684.50,209.60" fill="none" stroke="#e0463a" stroke-width="0.5" stroke-linejoin="round"/>
<polygon points="397.50,197.20 397.50,143.00 398.60,150.30 399.40,162.40 400.30,157.20 401.20,153.80 402.00,148.60 402.90,143.40 403.80,143.00 404.60,139.70 405.50,150.30 406.30,157.20 407.20,152.00 408.10,143.40 408.90,129.30 409.40,125.90 410.10,131.00 411.20,117.20 411.90,110.30 412.70,105.20 413.60,110.30 414.40,125.90 415.30,119.00 416.20,115.50 417.00,131.00 418.10,120.70 418.90,112.00 419.60,127.60 420.10,143.10 421.00,150.30 421.90,157.20 422.70,139.70 423.60,130.20 424.40,153.80 425.30,176.20 426.20,174.50 427.00,160.70 427.90,134.50 428.80,120.70 429.60,110.30 430.50,108.60 431.30,120.70 432.20,148.60 433.10,162.40 433.90,174.50 434.80,176.20 435.70,169.30 436.50,165.90 437.40,164.10 438.20,153.80 439.10,141.70 440.00,141.00 440.80,145.20 441.70,134.50 442.60,157.20 443.40,174.50 444.30,190.00 444.30,197.50 445.30,203.00 446.20,211.00 447.00,219.00 447.60,223.00 448.40,219.00 449.20,211.00 450.20,203.00 451.40,197.50 451.60,192.00 452.50,187.50 453.70,180.00 455.00,182.50 456.20,175.00 457.50,180.00 458.70,177.50 460.00,182.50 461.20,180.00 462.50,177.50 463.70,182.50 465.00,185.00 466.20,187.50 467.50,192.50 468.40,197.50 469.30,212.00 470.20,219.40 470.70,210.00 471.10,199.00 472.00,197.50 473.00,203.00 473.90,214.00 474.40,228.50 475.20,239.50 475.90,228.50 476.60,214.00 477.50,203.00 478.50,199.50 479.40,197.50 480.30,203.00 481.20,206.00 482.10,197.50 483.00,197.50 484.00,200.00 484.80,205.10 485.50,210.00 486.00,214.80 487.00,220.00 487.90,223.20 488.80,218.00 489.70,214.80 490.60,210.00 491.50,205.10 492.50,202.00 493.90,199.00 494.80,197.50 495.70,197.50 497.00,205.00 498.00,209.00 498.60,211.00 499.30,215.40 500.40,211.00 501.50,208.00 502.40,205.00 503.60,197.50 507.20,197.50 508.20,204.00 509.20,213.00 510.20,223.20 511.20,213.00 512.00,206.00 512.60,201.00 513.50,199.00 515.00,198.00 516.00,197.50 517.00,197.50 518.00,180.00 519.00,167.50 520.20,172.50 521.50,171.00 522.70,170.00 524.00,170.00 525.20,171.00 526.50,175.00 527.70,182.50 529.00,180.00 530.20,185.00 531.50,187.50 532.70,192.50 534.00,187.50 535.20,192.50 536.50,197.00 537.70,192.50 539.00,185.00 540.20,180.00 541.50,175.00 542.70,175.00 544.00,182.50 545.20,185.00 546.50,180.00 547.70,175.00 549.00,177.50 550.20,172.50 551.50,165.00 552.70,167.50 554.00,170.00 555.20,162.50 556.50,165.00 557.70,162.50 559.00,172.50 560.20,175.00 561.50,170.00 562.70,175.00 564.00,180.00 565.20,187.50 566.50,185.00 567.70,187.50 569.00,192.50 570.30,195.00 571.00,197.50 573.00,205.00 574.50,212.00 576.00,205.00 577.00,200.00 578.00,197.50 579.00,202.00 580.00,210.00 582.00,220.00 584.00,222.00 586.00,220.00 588.00,212.00 590.00,205.00 592.00,200.00 593.00,197.50 594.00,190.00 596.00,185.00 597.70,170.00 599.00,172.50 600.20,167.50 601.50,170.00 602.70,165.00 604.00,162.50 605.20,165.00 606.50,160.00 607.70,157.50 609.00,150.00 610.20,147.50 611.50,142.50 612.70,137.50 614.00,135.00 615.20,140.00 616.50,132.50 617.70,135.00 619.00,140.00 620.20,137.50 621.50,145.00 622.70,150.00 624.00,137.50 625.50,122.50 626.50,130.00 627.70,127.50 629.00,125.00 630.20,132.50 631.50,130.00 632.70,135.00 634.00,132.50 635.20,140.00 636.50,150.00 637.70,162.50 639.00,167.50 640.20,165.00 641.50,155.00 642.70,152.50 644.00,145.00 645.20,147.50 646.50,155.00 647.70,162.50 649.00,165.00 650.20,167.50 651.50,170.00 652.70,172.50 654.00,165.00 655.20,167.50 656.60,188.00 657.50,187.00 658.50,190.00 659.30,197.50 661.00,197.50 662.00,200.00 663.00,197.50 667.00,197.50 668.00,192.00 669.00,192.00 670.00,197.50 677.00,197.50 678.00,190.00 679.00,189.50 680.00,197.50 681.00,190.00 682.00,189.00 684.00,197.50 684.00,197.20" fill="#E2F24E" stroke="none"/>
<polyline points="397.50,143.00 398.60,150.30 399.40,162.40 400.30,157.20 401.20,153.80 402.00,148.60 402.90,143.40 403.80,143.00 404.60,139.70 405.50,150.30 406.30,157.20 407.20,152.00 408.10,143.40 408.90,129.30 409.40,125.90 410.10,131.00 411.20,117.20 411.90,110.30 412.70,105.20 413.60,110.30 414.40,125.90 415.30,119.00 416.20,115.50 417.00,131.00 418.10,120.70 418.90,112.00 419.60,127.60 420.10,143.10 421.00,150.30 421.90,157.20 422.70,139.70 423.60,130.20 424.40,153.80 425.30,176.20 426.20,174.50 427.00,160.70 427.90,134.50 428.80,120.70 429.60,110.30 430.50,108.60 431.30,120.70 432.20,148.60 433.10,162.40 433.90,174.50 434.80,176.20 435.70,169.30 436.50,165.90 437.40,164.10 438.20,153.80 439.10,141.70 440.00,141.00 440.80,145.20 441.70,134.50 442.60,157.20 443.40,174.50 444.30,190.00 444.30,197.50 445.30,203.00 446.20,211.00 447.00,219.00 447.60,223.00 448.40,219.00 449.20,211.00 450.20,203.00 451.40,197.50 451.60,192.00 452.50,187.50 453.70,180.00 455.00,182.50 456.20,175.00 457.50,180.00 458.70,177.50 460.00,182.50 461.20,180.00 462.50,177.50 463.70,182.50 465.00,185.00 466.20,187.50 467.50,192.50 468.40,197.50 469.30,212.00 470.20,219.40 470.70,210.00 471.10,199.00 472.00,197.50 473.00,203.00 473.90,214.00 474.40,228.50 475.20,239.50 475.90,228.50 476.60,214.00 477.50,203.00 478.50,199.50 479.40,197.50 480.30,203.00 481.20,206.00 482.10,197.50 483.00,197.50 484.00,200.00 484.80,205.10 485.50,210.00 486.00,214.80 487.00,220.00 487.90,223.20 488.80,218.00 489.70,214.80 490.60,210.00 491.50,205.10 492.50,202.00 493.90,199.00 494.80,197.50 495.70,197.50 497.00,205.00 498.00,209.00 498.60,211.00 499.30,215.40 500.40,211.00 501.50,208.00 502.40,205.00 503.60,197.50 507.20,197.50 508.20,204.00 509.20,213.00 510.20,223.20 511.20,213.00 512.00,206.00 512.60,201.00 513.50,199.00 515.00,198.00 516.00,197.50 517.00,197.50 518.00,180.00 519.00,167.50 520.20,172.50 521.50,171.00 522.70,170.00 524.00,170.00 525.20,171.00 526.50,175.00 527.70,182.50 529.00,180.00 530.20,185.00 531.50,187.50 532.70,192.50 534.00,187.50 535.20,192.50 536.50,197.00 537.70,192.50 539.00,185.00 540.20,180.00 541.50,175.00 542.70,175.00 544.00,182.50 545.20,185.00 546.50,180.00 547.70,175.00 549.00,177.50 550.20,172.50 551.50,165.00 552.70,167.50 554.00,170.00 555.20,162.50 556.50,165.00 557.70,162.50 559.00,172.50 560.20,175.00 561.50,170.00 562.70,175.00 564.00,180.00 565.20,187.50 566.50,185.00 567.70,187.50 569.00,192.50 570.30,195.00 571.00,197.50 573.00,205.00 574.50,212.00 576.00,205.00 577.00,200.00 578.00,197.50 579.00,202.00 580.00,210.00 582.00,220.00 584.00,222.00 586.00,220.00 588.00,212.00 590.00,205.00 592.00,200.00 593.00,197.50 594.00,190.00 596.00,185.00 597.70,170.00 599.00,172.50 600.20,167.50 601.50,170.00 602.70,165.00 604.00,162.50 605.20,165.00 606.50,160.00 607.70,157.50 609.00,150.00 610.20,147.50 611.50,142.50 612.70,137.50 614.00,135.00 615.20,140.00 616.50,132.50 617.70,135.00 619.00,140.00 620.20,137.50 621.50,145.00 622.70,150.00 624.00,137.50 625.50,122.50 626.50,130.00 627.70,127.50 629.00,125.00 630.20,132.50 631.50,130.00 632.70,135.00 634.00,132.50 635.20,140.00 636.50,150.00 637.70,162.50 639.00,167.50 640.20,165.00 641.50,155.00 642.70,152.50 644.00,145.00 645.20,147.50 646.50,155.00 647.70,162.50 649.00,165.00 650.20,167.50 651.50,170.00 652.70,172.50 654.00,165.00 655.20,167.50 656.60,188.00 657.50,187.00 658.50,190.00 659.30,197.50 661.00,197.50 662.00,200.00 663.00,197.50 667.00,197.50 668.00,192.00 669.00,192.00 670.00,197.50 677.00,197.50 678.00,190.00 679.00,189.50 680.00,197.50 681.00,190.00 682.00,189.00 684.00,197.50" fill="none" stroke="#7cc96a" stroke-width="0.5" stroke-linejoin="round"/>
<clipPath id="negclip"><rect x="397.5" y="197.2" width="286.5" height="46.80000000000001"/></clipPath>
<g clip-path="url(#negclip)"><polygon points="397.50,197.20 397.50,50.00 398.60,59.70 399.40,62.20 400.30,70.00 401.20,54.50 402.00,42.40 402.60,39.80 403.20,49.30 403.90,63.10 404.60,75.00 405.50,90.40 406.30,78.00 406.90,72.00 407.70,61.40 408.40,42.40 409.30,30.30 409.80,37.20 410.50,49.30 411.20,56.20 411.90,40.70 412.60,30.00 413.20,32.00 413.70,60.00 414.10,85.00 414.60,61.40 415.30,45.90 416.20,31.20 416.90,35.50 417.60,51.00 418.40,59.70 419.30,45.00 420.00,70.00 420.80,92.00 421.60,80.00 422.40,72.00 423.30,69.30 424.30,80.00 425.30,90.00 426.10,100.00 426.80,109.70 427.60,100.00 428.50,85.00 429.60,33.80 430.50,30.30 431.30,44.10 432.20,61.40 433.20,75.00 434.30,90.40 435.20,78.00 435.70,64.80 436.50,70.00 437.40,78.30 438.20,66.00 439.10,56.20 440.00,64.00 440.80,71.40 441.70,54.50 442.30,62.00 443.00,75.00 444.00,90.00 444.50,115.00 445.00,137.00 446.00,150.00 446.70,167.00 447.50,166.00 448.50,155.00 449.50,145.00 450.00,140.00 451.00,130.00 451.40,127.00 452.40,123.00 453.40,119.00 454.00,110.70 454.50,102.40 455.50,104.50 456.60,131.40 457.60,133.50 458.60,123.10 459.70,116.90 460.70,114.80 461.70,116.90 462.80,112.80 463.80,104.50 464.80,108.60 465.90,119.00 466.90,108.60 467.90,110.70 469.00,116.90 470.00,127.30 470.70,137.00 471.40,140.00 472.40,160.70 473.00,181.00 473.30,197.50 474.20,212.00 475.20,218.50 476.30,213.00 477.10,203.00 477.50,197.50 477.60,181.40 479.70,160.70 480.70,140.00 481.40,116.90 482.40,110.70 483.50,107.60 484.50,116.90 485.50,121.00 486.60,114.80 487.60,110.70 488.60,119.00 489.50,137.00 490.50,160.00 491.50,185.00 492.50,187.50 493.70,185.00 494.50,188.00 494.90,197.50 495.50,202.00 496.00,204.00 496.50,201.00 496.90,197.50 497.50,190.00 498.00,189.00 499.00,188.00 499.80,170.00 500.50,150.00 501.20,145.00 502.50,150.00 503.70,162.50 505.00,135.00 505.50,132.50 506.20,137.50 507.50,145.00 508.70,150.00 510.00,137.50 511.20,140.00 512.40,155.00 513.00,197.50 514.00,208.00 515.00,215.50 516.00,205.00 516.70,197.50 517.00,150.00 517.70,130.00 518.70,137.50 520.00,162.50 521.20,170.00 522.50,170.00 523.70,172.50 525.00,170.00 526.20,180.00 527.50,175.00 528.70,170.00 529.10,162.60 530.00,155.00 530.50,150.00 531.20,145.00 531.90,140.50 532.70,150.00 533.50,170.00 534.20,140.00 534.70,122.60 535.50,114.30 536.60,125.00 537.40,106.00 538.20,111.00 538.80,135.00 539.30,166.70 540.00,178.00 541.20,175.00 542.20,170.00 542.90,165.00 544.30,146.00 545.70,154.00 547.00,143.00 548.40,150.00 549.80,139.10 551.20,142.00 552.60,137.80 554.00,148.00 555.00,132.50 556.50,105.00 557.70,103.70 558.70,117.50 560.00,127.50 561.20,140.00 562.50,155.00 563.70,155.00 565.20,145.00 566.20,150.00 567.50,162.50 568.70,175.00 570.00,185.00 571.50,197.50 573.00,197.50 574.00,205.00 574.70,209.70 575.50,211.00 576.50,208.00 577.20,201.00 577.70,190.00 578.50,189.00 579.30,190.00 580.00,204.00 580.70,214.80 581.50,220.00 582.50,218.00 583.30,214.80 584.20,209.70 585.00,196.00 585.70,194.00 586.20,198.00 586.70,213.00 587.50,211.00 588.50,208.00 589.30,204.50 590.20,202.80 591.00,206.20 592.00,208.00 592.80,201.00 593.60,199.30 594.50,202.80 595.30,206.20 596.20,201.00 597.00,197.50 598.00,172.50 599.00,150.00 600.20,147.50 601.50,160.00 602.70,157.50 604.00,155.00 605.20,165.00 606.50,157.50 607.70,150.00 609.00,142.50 610.20,140.00 611.50,150.00 612.70,135.00 614.00,112.50 615.20,117.50 616.50,115.00 617.70,110.00 619.00,102.50 620.20,112.50 621.50,125.00 622.70,132.50 623.70,130.00 625.20,90.00 626.50,83.70 627.70,97.50 629.00,95.00 630.20,86.20 631.50,100.00 632.70,127.50 634.00,130.00 635.20,132.50 636.50,135.00 637.70,145.00 639.00,137.50 640.20,122.50 641.50,112.50 642.70,110.00 644.00,107.50 645.20,108.70 646.50,117.50 647.70,130.00 649.00,140.00 650.20,150.00 651.50,162.50 652.70,172.50 654.00,165.00 655.20,175.00 655.50,197.50 656.00,201.00 656.50,185.00 657.70,187.50 659.00,192.50 660.20,190.00 661.00,188.00 661.50,197.50 662.00,204.00 663.00,204.00 664.00,197.50 665.20,192.50 666.00,187.00 667.00,186.80 667.70,192.50 668.50,197.50 670.00,207.00 671.50,210.00 673.00,213.00 674.00,208.00 675.00,202.00 676.00,197.50 676.80,180.00 678.00,182.00 679.00,187.50 680.20,192.50 681.50,195.00 682.00,185.40 683.00,187.00 683.70,197.50 684.50,209.60 684.50,197.20" fill="#E87E2E" stroke="none"/>
<polyline points="397.50,50.00 398.60,59.70 399.40,62.20 400.30,70.00 401.20,54.50 402.00,42.40 402.60,39.80 403.20,49.30 403.90,63.10 404.60,75.00 405.50,90.40 406.30,78.00 406.90,72.00 407.70,61.40 408.40,42.40 409.30,30.30 409.80,37.20 410.50,49.30 411.20,56.20 411.90,40.70 412.60,30.00 413.20,32.00 413.70,60.00 414.10,85.00 414.60,61.40 415.30,45.90 416.20,31.20 416.90,35.50 417.60,51.00 418.40,59.70 419.30,45.00 420.00,70.00 420.80,92.00 421.60,80.00 422.40,72.00 423.30,69.30 424.30,80.00 425.30,90.00 426.10,100.00 426.80,109.70 427.60,100.00 428.50,85.00 429.60,33.80 430.50,30.30 431.30,44.10 432.20,61.40 433.20,75.00 434.30,90.40 435.20,78.00 435.70,64.80 436.50,70.00 437.40,78.30 438.20,66.00 439.10,56.20 440.00,64.00 440.80,71.40 441.70,54.50 442.30,62.00 443.00,75.00 444.00,90.00 444.50,115.00 445.00,137.00 446.00,150.00 446.70,167.00 447.50,166.00 448.50,155.00 449.50,145.00 450.00,140.00 451.00,130.00 451.40,127.00 452.40,123.00 453.40,119.00 454.00,110.70 454.50,102.40 455.50,104.50 456.60,131.40 457.60,133.50 458.60,123.10 459.70,116.90 460.70,114.80 461.70,116.90 462.80,112.80 463.80,104.50 464.80,108.60 465.90,119.00 466.90,108.60 467.90,110.70 469.00,116.90 470.00,127.30 470.70,137.00 471.40,140.00 472.40,160.70 473.00,181.00 473.30,197.50 474.20,212.00 475.20,218.50 476.30,213.00 477.10,203.00 477.50,197.50 477.60,181.40 479.70,160.70 480.70,140.00 481.40,116.90 482.40,110.70 483.50,107.60 484.50,116.90 485.50,121.00 486.60,114.80 487.60,110.70 488.60,119.00 489.50,137.00 490.50,160.00 491.50,185.00 492.50,187.50 493.70,185.00 494.50,188.00 494.90,197.50 495.50,202.00 496.00,204.00 496.50,201.00 496.90,197.50 497.50,190.00 498.00,189.00 499.00,188.00 499.80,170.00 500.50,150.00 501.20,145.00 502.50,150.00 503.70,162.50 505.00,135.00 505.50,132.50 506.20,137.50 507.50,145.00 508.70,150.00 510.00,137.50 511.20,140.00 512.40,155.00 513.00,197.50 514.00,208.00 515.00,215.50 516.00,205.00 516.70,197.50 517.00,150.00 517.70,130.00 518.70,137.50 520.00,162.50 521.20,170.00 522.50,170.00 523.70,172.50 525.00,170.00 526.20,180.00 527.50,175.00 528.70,170.00 529.10,162.60 530.00,155.00 530.50,150.00 531.20,145.00 531.90,140.50 532.70,150.00 533.50,170.00 534.20,140.00 534.70,122.60 535.50,114.30 536.60,125.00 537.40,106.00 538.20,111.00 538.80,135.00 539.30,166.70 540.00,178.00 541.20,175.00 542.20,170.00 542.90,165.00 544.30,146.00 545.70,154.00 547.00,143.00 548.40,150.00 549.80,139.10 551.20,142.00 552.60,137.80 554.00,148.00 555.00,132.50 556.50,105.00 557.70,103.70 558.70,117.50 560.00,127.50 561.20,140.00 562.50,155.00 563.70,155.00 565.20,145.00 566.20,150.00 567.50,162.50 568.70,175.00 570.00,185.00 571.50,197.50 573.00,197.50 574.00,205.00 574.70,209.70 575.50,211.00 576.50,208.00 577.20,201.00 577.70,190.00 578.50,189.00 579.30,190.00 580.00,204.00 580.70,214.80 581.50,220.00 582.50,218.00 583.30,214.80 584.20,209.70 585.00,196.00 585.70,194.00 586.20,198.00 586.70,213.00 587.50,211.00 588.50,208.00 589.30,204.50 590.20,202.80 591.00,206.20 592.00,208.00 592.80,201.00 593.60,199.30 594.50,202.80 595.30,206.20 596.20,201.00 597.00,197.50 598.00,172.50 599.00,150.00 600.20,147.50 601.50,160.00 602.70,157.50 604.00,155.00 605.20,165.00 606.50,157.50 607.70,150.00 609.00,142.50 610.20,140.00 611.50,150.00 612.70,135.00 614.00,112.50 615.20,117.50 616.50,115.00 617.70,110.00 619.00,102.50 620.20,112.50 621.50,125.00 622.70,132.50 623.70,130.00 625.20,90.00 626.50,83.70 627.70,97.50 629.00,95.00 630.20,86.20 631.50,100.00 632.70,127.50 634.00,130.00 635.20,132.50 636.50,135.00 637.70,145.00 639.00,137.50 640.20,122.50 641.50,112.50 642.70,110.00 644.00,107.50 645.20,108.70 646.50,117.50 647.70,130.00 649.00,140.00 650.20,150.00 651.50,162.50 652.70,172.50 654.00,165.00 655.20,175.00 655.50,197.50 656.00,201.00 656.50,185.00 657.70,187.50 659.00,192.50 660.20,190.00 661.00,188.00 661.50,197.50 662.00,204.00 663.00,204.00 664.00,197.50 665.20,192.50 666.00,187.00 667.00,186.80 667.70,192.50 668.50,197.50 670.00,207.00 671.50,210.00 673.00,213.00 674.00,208.00 675.00,202.00 676.00,197.50 676.80,180.00 678.00,182.00 679.00,187.50 680.20,192.50 681.50,195.00 682.00,185.40 683.00,187.00 683.70,197.50 684.50,209.60" fill="none" stroke="#e0463a" stroke-width="0.5" stroke-linejoin="round"/>
</g>
<line x1="442.5" y1="9.4" x2="442.5" y2="244" stroke="#999" stroke-opacity="0.6" stroke-width="0.8" stroke-dasharray="2.5,2.5"/>
<line x1="453.6" y1="9.4" x2="453.6" y2="244" stroke="#999" stroke-opacity="0.6" stroke-width="0.8" stroke-dasharray="2.5,2.5"/>
<line x1="465.3" y1="9.4" x2="465.3" y2="244" stroke="#999" stroke-opacity="0.6" stroke-width="0.8" stroke-dasharray="2.5,2.5"/>
<line x1="484" y1="9.4" x2="484" y2="244" stroke="#999" stroke-opacity="0.6" stroke-width="0.8" stroke-dasharray="2.5,2.5"/>
<line x1="570" y1="9.4" x2="570" y2="244" stroke="#999" stroke-opacity="0.6" stroke-width="0.8" stroke-dasharray="2.5,2.5"/>
<line x1="601.2" y1="9.4" x2="601.2" y2="244" stroke="#999" stroke-opacity="0.6" stroke-width="0.8" stroke-dasharray="2.5,2.5"/>

<line x1="397.5" y1="197.20" x2="684" y2="197.20" stroke="#4a4a4a" stroke-width="0.9"/>
<path d="M397.5,9.4 H684 V244 H397.5" fill="none" stroke="#a0a0a0" stroke-width="1.1"/>
<line x1="397.5" y1="8.9" x2="397.5" y2="244.5" stroke="#6a6a6a" stroke-width="1.1"/>
<line x1="393" y1="244.17" x2="397.5" y2="244.17" stroke="#666" stroke-width="0.8"/>
<text x="390.1" y="247.07" font-size="9.5" text-anchor="end" fill="#222">-5</text>
<line x1="393" y1="197.20" x2="397.5" y2="197.20" stroke="#666" stroke-width="0.8"/>
<text x="390.1" y="200.10" font-size="9.5" text-anchor="end" fill="#222">0</text>
<line x1="393" y1="150.22" x2="397.5" y2="150.22" stroke="#666" stroke-width="0.8"/>
<text x="390.1" y="153.12" font-size="9.5" text-anchor="end" fill="#222">5</text>
<line x1="393" y1="103.25" x2="397.5" y2="103.25" stroke="#666" stroke-width="0.8"/>
<text x="390.1" y="106.15" font-size="9.5" text-anchor="end" fill="#222">10</text>
<line x1="393" y1="56.28" x2="397.5" y2="56.28" stroke="#666" stroke-width="0.8"/>
<text x="390.1" y="59.18" font-size="9.5" text-anchor="end" fill="#222">15</text>
<line x1="393" y1="9.30" x2="397.5" y2="9.30" stroke="#666" stroke-width="0.8"/>
<text x="390.1" y="12.20" font-size="9.5" text-anchor="end" fill="#222">20</text>
<line x1="395.3" y1="220.69" x2="397.5" y2="220.69" stroke="#666" stroke-width="0.8"/>
<line x1="395.3" y1="173.71" x2="397.5" y2="173.71" stroke="#666" stroke-width="0.8"/>
<line x1="395.3" y1="126.74" x2="397.5" y2="126.74" stroke="#666" stroke-width="0.8"/>
<line x1="395.3" y1="79.76" x2="397.5" y2="79.76" stroke="#666" stroke-width="0.8"/>
<line x1="395.3" y1="32.79" x2="397.5" y2="32.79" stroke="#666" stroke-width="0.8"/>
<text x="442.65" y="254.0" font-size="9.5" text-anchor="middle" fill="#222">100</text>
<text x="488.00" y="254.0" font-size="9.5" text-anchor="middle" fill="#222">200</text>
<text x="533.35" y="254.0" font-size="9.5" text-anchor="middle" fill="#222">300</text>
<text x="578.70" y="254.0" font-size="9.5" text-anchor="middle" fill="#222">400</text>
<text x="624.05" y="254.0" font-size="9.5" text-anchor="middle" fill="#222">500</text>
<text x="669.40" y="254.0" font-size="9.5" text-anchor="middle" fill="#222">600</text>
<text x="358.3" y="253.7" font-size="9.5" fill="#222">Grids (</text>
<text x="393.5" y="253.7" font-size="9.5" fill="#222">number)</text>
<text transform="translate(376,202) rotate(-90)" font-size="10.3" fill="#222">Urban heat island intensity(°C)</text>
<text x="357" y="11.6" font-size="15.5" fill="#111" style="stroke-width:0.1px">(b)</text>
<line x1="32.7" y1="266.3" x2="51.1" y2="266.3" stroke="#55b06c" stroke-width="1.3"/>
<text x="55" y="269.7" font-size="8.5" fill="#222" textLength="105.8" lengthAdjust="spacingAndGlyphs">Surface temperature in 2001</text>
<line x1="177.9" y1="266.2" x2="194.3" y2="266.2" stroke="#e0454a" stroke-width="1.3"/>
<text x="199.5" y="269.7" font-size="8.5" fill="#222" textLength="105.8" lengthAdjust="spacingAndGlyphs">Surface temperature in 2024</text>
<rect x="31.8" y="273.3" width="25.9" height="14.3" fill="#EAC69A" stroke="#555" stroke-width="0.8"/>
<text x="58.1" y="287.7" font-size="8.5" fill="#222">Jian River</text>
<rect x="108.1" y="273.3" width="25.8" height="14.3" fill="#9CCE96" stroke="#555" stroke-width="0.8"/>
<text x="135.2" y="287.7" font-size="8.5" fill="#222">Luo River</text>
<rect x="192.7" y="273.3" width="25.8" height="14.3" fill="#AD99CD" stroke="#555" stroke-width="0.8"/>
<text x="220" y="287.7" font-size="8.5" fill="#222">Longmen Grottoes area</text>
<line x1="389.2" y1="266.7" x2="407.4" y2="266.7" stroke="#55b06c" stroke-width="1.3"/>
<text x="409.7" y="269.7" font-size="8.5" fill="#222">Urban heat island intensity 2001</text>
<line x1="542.9" y1="266.3" x2="560.5" y2="266.3" stroke="#e0454a" stroke-width="1.3"/>
<text x="561" y="269.7" font-size="8.5" fill="#222">Urban heat island intensity 2024</text>
<rect x="388.7" y="273.3" width="26.1" height="14.3" fill="#EAC69A" stroke="#555" stroke-width="0.8"/>
<text x="415" y="287.7" font-size="8.5" fill="#222">Jian River</text>
<rect x="465.3" y="273.3" width="25.7" height="14.3" fill="#9CCE96" stroke="#555" stroke-width="0.8"/>
<text x="492.2" y="287.7" font-size="8.5" fill="#222">Luo River</text>
<rect x="550.1" y="273.3" width="25.3" height="14.3" fill="#AD99CD" stroke="#555" stroke-width="0.8"/>
<text x="577.1" y="287.7" font-size="8.5" fill="#222">Longmen Grottoes area</text>
</svg>
</body></html>
